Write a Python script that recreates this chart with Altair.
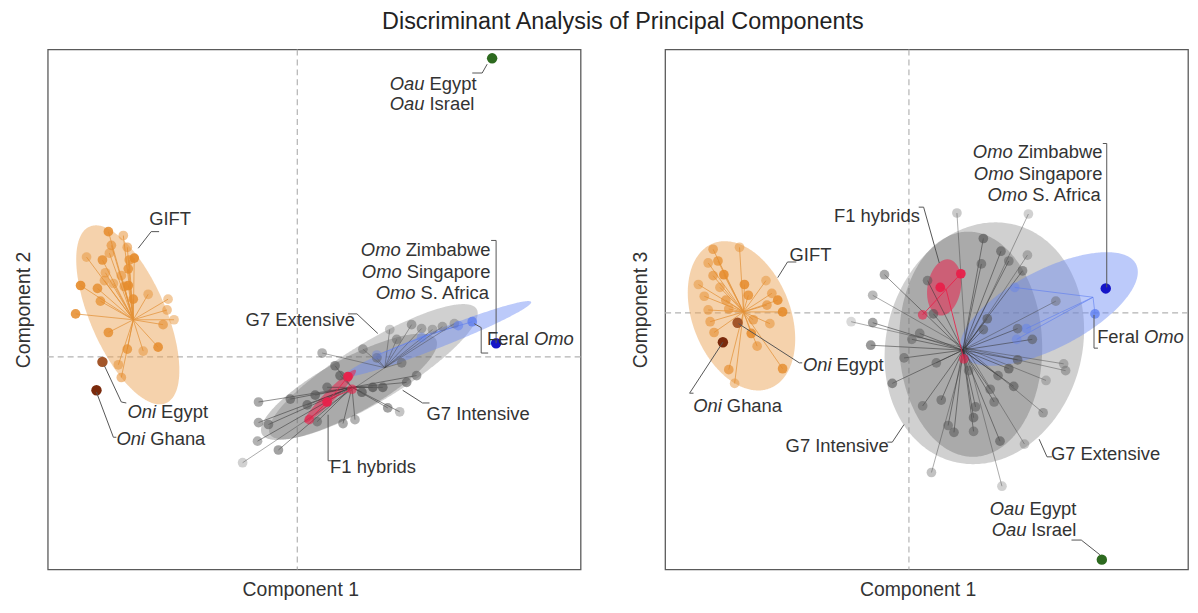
import altair as alt
import numpy as np
import pandas as pd

FONT = "Liberation Sans"
TXT = "#333333"

# ------------------------------------------------------------------
# LEFT PANEL  (Component 1 vs Component 2)
# ------------------------------------------------------------------
L_GIFT_X = [-19.0, -17.5, -18.7, -17.1, -21.2, -19.6, -18.9, -16.4, -16.9, -17.0,
            -19.3, -17.7, -21.8, -20.1, -19.4, -18.5, -17.4, -17.0, -16.5, -19.8,
            -15.0, -13.0, -22.3, -13.1, -12.4, -13.5, -19.0, -14.0, -17.1, -15.5,
            -18.0, -17.7]
L_GIFT_Y = [12.8, 12.4, 11.4, 11.2, 10.2, 9.9, 10.6, 10.1, 9.9, 9.0,
            8.6, 8.3, 7.3, 7.0, 7.8, 7.5, 7.2, 7.3, 5.9, 5.7,
            6.4, 5.9, 4.4, 4.8, 3.8, 3.3, 2.5, 1.0, 0.8, 0.6,
            -0.8, -2.1]
L_GIFT_A = [0.85, 0.5, 0.6, 0.55, 0.45, 0.8, 0.5, 0.9, 0.7, 0.75,
            0.5, 0.55, 0.9, 0.8, 0.5, 0.45, 0.6, 0.85, 0.8, 0.7,
            0.45, 0.45, 0.85, 0.5, 0.45, 0.6, 0.8, 0.85, 0.7, 0.45,
            0.5, 0.55]
L_GIFT_C = (-16.5, 3.8)

L_G7I_X = [-3.9, -3.9, -2.9, -4.0, -1.9, -0.7, 1.0, 1.8, 2.0, 4.6, 5.8, 6.5, 7.6, 8.6,
           9.1, 10.3, 11.0, 12.0, 3.8, 4.3, 3.0]
L_G7I_Y = [-4.6, -6.7, -6.9, -8.6, -9.5, -4.3, -4.9, -3.9, -6.6, -6.8, -6.4, -3.6, -3.1, -3.1,
           -5.2, -5.6, -2.6, -1.9, -0.9, -1.9, -3.1]
L_G7I_A = [0.5, 0.5, 0.55, 0.45, 0.55, 0.6, 0.6, 0.65, 0.5, 0.5, 0.45, 0.7, 0.75, 0.7,
           0.55, 0.35, 0.6, 0.55, 0.6, 0.65, 0.6]
L_G7I_C = (5.5, -3.1)

L_G7E_X = [2.5, -5.5, 10.5, 8.0, 6.6, 9.3, 11.5, 12.5, 13.6, 14.6, 15.8, 10.0]
L_G7E_Y = [0.4, -10.8, -0.6, -0.1, 0.8, 2.8, 3.3, 2.9, 2.8, 3.1, 3.4, 1.8]
L_G7E_A = [0.5, 0.3, 0.6, 0.55, 0.5, 0.35, 0.5, 0.45, 0.4, 0.45, 0.4, 0.5]
L_G7E_C = (8.8, -1.1)

L_F1_X = [5.1, 3.0, 1.2, 5.5]
L_F1_Y = [-2.0, -4.6, -6.4, -3.3]
L_F1_A = [0.95, 0.95, 0.6, 0.6]
L_F1_C = (3.3, -4.3)

L_FER_X = [17.6, 16.2, 12.5, 8.0]
L_FER_Y = [3.6, 3.2, 2.0, 0.2]
L_FER_A = [0.75, 0.5, 0.4, 0.35]
L_FER_C = (13.3, 2.3)

L_OMO = (20.0, 1.4)
L_ONI_EG = (-19.6, -0.5)
L_ONI_GH = (-20.2, -3.4)
L_OAU = (19.6, 30.5)

# ellipses: centre x, centre y, semi-major, semi-minor, angle (deg)
L_ELL_NAMES = ["G7 Extensive", "G7 Intensive", "Omo", "F1", "GIFT"]
L_ELL_CX = [7.65, 5.2, 14.15, 3.3, -17.05]
L_ELL_CY = [-1.5, -3.05, 1.85, -4.0, 4.3]
L_ELL_A = [12.2, 10.0, 10.1, 3.7, 9.8]
L_ELL_B = [3.0, 2.8, 0.9, 0.55, 3.8]
L_ELL_ANG = [31.7, 29.0, 21.9, 46.0, -67.0]

# labels: split point, y, first part, second part, italic flags
L_LAB_X = [-15.15, -13.95, -15.05, -5.45, 12.75, 3.05, 10.65, 10.75, 12.15, 23.55, 13.05, 13.05]
L_LAB_Y = [14.1, -5.6, -8.4, 3.8, -5.8, -11.2, 10.9, 8.7, 6.5, 1.8, 27.9, 25.8]
L_LAB_P1 = ["", "Oni", "Oni", "", "", "", "Omo", "Omo", "Omo", "Feral", "Oau", "Oau"]
L_LAB_P2 = ["GIFT", "Egypt", "Ghana", "G7 Extensive", "G7 Intensive", "F1 hybrids",
            "Zimbabwe", "Singapore", "S. Africa", "Omo", "Egypt", "Israel"]
L_LAB_I1 = [False, True, True, False, False, False, True, True, True, False, True, True]
L_LAB_I2 = [False, False, False, False, False, False, False, False, False, True, False, False]

L_LEADERS = {
    "gift": [(-16.0, 11.1), (-14.7, 12.8), (-13.9, 12.8)],
    "oniE": [(-19.4, -0.9), (-17.7, -4.6), (-17.2, -4.7)],
    "oniG": [(-20.2, -3.6), (-18.5, -8.2), (-18.2, -8.2)],
    "g7e": [(5.1, 4.4), (6.0, 4.4), (8.1, 2.4)],
    "g7i": [(10.6, -3.4), (12.6, -4.7), (13.3, -4.7)],
    "f1": [(3.1, -5.9), (3.1, -10.6), (3.5, -10.6)],
    "omo": [(19.5, 11.9), (20.0, 11.9), (20.0, 1.4)],
    "feral": [(17.8, 3.4), (18.5, 3.0), (18.5, 0.4), (19.2, 0.4)],
    "oau": [(19.1, 29.9), (18.6, 29.0), (17.6, 29.0)],
}

# ------------------------------------------------------------------
# RIGHT PANEL  (Component 1 vs Component 3)
# ------------------------------------------------------------------
R_GIFT_X = [-20.0, -17.3, -20.5, -19.5, -20.0, -18.9, -21.5, -19.3, -16.8, -14.6,
            -20.9, -18.7, -16.4, -14.0, -13.4, -14.5, -12.9, -20.5, -18.4, -20.3,
            -15.9, -14.2, -19.9, -16.1, -15.5, -12.9, -18.4, -17.8]
R_GIFT_Y = [6.5, 6.7, 5.1, 5.3, 3.8, 3.9, 2.9, 2.6, 2.9, 3.3,
            1.7, 1.3, 1.8, 2.0, 1.3, 0.8, 0.1, 0.3, 0.4, -0.9,
            -0.7, -1.1, -2.0, -2.1, -3.4, -5.7, -5.8, -7.2]
R_GIFT_A = [0.6, 0.45, 0.5, 0.7, 0.6, 0.85, 0.45, 0.5, 0.85, 0.45,
            0.5, 0.6, 0.75, 0.55, 0.85, 0.6, 0.9, 0.5, 0.55, 0.55,
            0.6, 0.5, 0.6, 0.85, 0.55, 0.8, 0.65, 0.45]
R_GIFT_C = (-16.9, 0.1)

R_G7I_X = [-2.5, 1.9, 2.5, -3.7, 1.1, 0.3, -3.9, -0.5, 2.8, -1.7, 3.3, 1.4, 4.0, 4.6,
           7.6, 9.4, 7.4, 10.2, 11.6, 8.0, 7.6, 11.1, 12.6, 11.1, 10.2, 6.1, 9.1,
           10.7, 8.3, 8.7, 6.8, 6.6, 6.6, 9.3]
R_G7I_Y = [3.9, 3.3, -0.1, -1.0, -2.1, -2.7, -3.3, -4.6, -5.1, -7.2, -8.9, -9.5, -11.5, -12.2,
           7.6, 6.3, 5.0, 5.3, 4.3, -0.6, -1.7, -1.6, -2.7, -4.8, -5.7, -5.9, -6.4,
           -7.5, -7.8, -9.1, -9.6, -10.7, -12.1, -13.1]
R_G7I_A = [0.5, 0.55, 0.6, 0.55, 0.5, 0.45, 0.6, 0.5, 0.5, 0.6, 0.55, 0.45, 0.5, 0.55,
           0.65, 0.6, 0.55, 0.5, 0.55, 0.6, 0.55, 0.5, 0.55, 0.6, 0.65, 0.5, 0.55,
           0.6, 0.55, 0.5, 0.55, 0.6, 0.5, 0.6]
R_G7I_C = (5.5, -3.8)

R_G7E_X = [4.9, 12.2, -5.9, -3.7, 15.0, 15.8, 16.0, 14.0, 13.7, 11.8, 9.5, 2.3, 12.1]
R_G7E_Y = [10.2, 10.1, -0.9, 1.8, 1.2, -5.2, -5.9, -6.9, -10.2, -13.4, -17.7, -16.3, 5.9]
R_G7E_A = [0.35, 0.3, 0.25, 0.45, 0.45, 0.4, 0.45, 0.35, 0.5, 0.35, 0.3, 0.4, 0.4]
R_G7E_C = (5.8, -3.6)

R_F1_X = [5.3, 3.2, 1.4, 5.6]
R_F1_Y = [4.0, 2.6, -0.2, -4.7]
R_F1_A = [0.95, 0.95, 0.6, 0.6]
R_F1_C = (3.8, 2.4)

R_FER_X = [19.0, 10.8, 12.0, 11.0]
R_FER_Y = [-0.1, 2.6, -1.6, -2.7]
R_FER_A = [0.75, 0.35, 0.4, 0.35]
R_FER_C = (18.8, 1.6)

R_OMO = (20.1, 2.5)
R_ONI_EG = (-17.5, -1.0)
R_ONI_GH = (-19.0, -3.0)
R_OAU = (19.7, -25.2)

R_ELL_NAMES = ["G7 Extensive", "G7 Intensive", "Omo", "F1", "GIFT"]
R_ELL_CX = [7.7, 6.3, 14.3, 3.6, -17.1]
R_ELL_CY = [-3.1, -3.2, 0.4, 2.6, -0.3]
R_ELL_A = [12.5, 11.5, 10.0, 2.9, 7.95]
R_ELL_B = [10.0, 7.3, 4.0, 1.7, 5.0]
R_ELL_ANG = [75.0, 92.0, 27.3, 80.0, -68.6]

R_LAB_X = [-12.45, -7.65, -18.85, -7.9, 10.85, 10.95, 12.35, 23.75, -12.85, 14.25, 12.05, 12.25]
R_LAB_Y = [5.9, -5.3, -9.5, 9.9, 16.4, 14.2, 12.0, -2.5, -13.6, -14.4, -20.0, -22.2]
R_LAB_P1 = ["", "Oni", "Oni", "", "Omo", "Omo", "Omo", "Feral", "", "", "Oau", "Oau"]
R_LAB_P2 = ["GIFT", "Egypt", "Ghana", "F1 hybrids", "Zimbabwe", "Singapore", "S. Africa",
            "Omo", "G7 Intensive", "G7 Extensive", "Egypt", "Israel"]
R_LAB_I1 = [False, True, True, False, True, True, True, False, False, False, True, True]
R_LAB_I2 = [False, False, False, False, False, False, False, True, False, False, False, False]

R_LEADERS = {
    "gift": [(-13.4, 3.6), (-12.4, 5.2), (-11.5, 5.2)],
    "oniE": [(-17.4, -1.1), (-11.2, -5.1), (-10.9, -5.1)],
    "oniG": [(-19.0, -3.0), (-22.4, -8.2), (-22.0, -8.2)],
    "f1": [(1.0, 10.8), (1.5, 10.8), (3.1, 5.1)],
    "omo": [(19.8, 17.3), (20.2, 17.3), (20.2, 2.6)],
    "feral": [(18.9, -0.2), (18.9, -3.6), (19.3, -3.6)],
    "g7i": [(-2.2, -13.2), (-1.7, -13.2), (-0.5, -11.4)],
    "g7e": [(13.3, -12.9), (14.1, -14.7), (14.6, -14.7)],
    "oau": [(16.6, -23.2), (17.6, -23.2), (19.5, -24.7)],
}

# ------------------------------------------------------------------
# styles
# ------------------------------------------------------------------
PT_COL = {"GIFT": "#E58B2A", "G7I": "#555555", "G7E": "#666666", "F1": "#E8204A",
          "FER": "#5B7CF0", "OMO": "#1414C8", "ONIE": "#A3562A", "ONIG": "#7A2A0C",
          "OAU": "#2D6A1F"}
SP_COL = {"GIFT": "#E39238", "G7I": "#333333", "G7E": "#444444", "F1": "#E8204A",
          "FER": "#5B7CF0"}
SP_OP = {"GIFT": 0.75, "G7I": 0.55, "G7E": 0.45, "F1": 0.85, "FER": 0.6}
ELL_STYLE = {"G7 Extensive": ("#8a8a8a", 0.4), "G7 Intensive": ("#666666", 0.36),
             "Omo": ("#6A8AF5", 0.45), "F1": ("#E8204A", 0.55), "GIFT": ("#EBA55A", 0.5)}


def ellipse_area(cx, cy, a, b, ang_deg, n=181):
    t = np.radians(ang_deg)
    c, s = np.cos(t), np.sin(t)
    xh = np.sqrt((a * c) ** 2 + (b * s) ** 2)
    X = -xh * np.cos(np.linspace(0, np.pi, n))
    A = s ** 2 / a ** 2 + c ** 2 / b ** 2
    B = 2 * X * c * s * (1 / a ** 2 - 1 / b ** 2)
    C = X ** 2 * (c ** 2 / a ** 2 + s ** 2 / b ** 2) - 1
    disc = np.clip(B ** 2 - 4 * A * C, 0, None)
    y1 = (-B + np.sqrt(disc)) / (2 * A)
    y2 = (-B - np.sqrt(disc)) / (2 * A)
    return pd.DataFrame({"x": cx + X, "y": cy + y1, "y2": cy + y2})


def group_df(key, xs, ys, al, centre=None, size=95):
    df = pd.DataFrame({"x": xs, "y": ys, "op": al})
    df["col"] = PT_COL[key]
    df["sz"] = size
    df["key"] = key
    if centre is not None:
        df["cx"] = centre[0]
        df["cy"] = centre[1]
    return df


def single_df(key, pt, size=110):
    return pd.DataFrame({"x": [pt[0]], "y": [pt[1]], "op": [1.0], "col": [PT_COL[key]],
                         "sz": [size], "key": [key]})


def make_panel(xdom, ydom, w, h, ytitle, groups, singles, ell, leaders, labels):
    xs = alt.Scale(domain=xdom, nice=False, zero=False)
    ys = alt.Scale(domain=ydom, nice=False, zero=False)
    xax = alt.Axis(title="Component 1")
    yax = alt.Axis(title=ytitle)

    def X(f):
        return alt.X(f, type="quantitative", scale=xs, axis=xax)

    def Y(f):
        return alt.Y(f, type="quantitative", scale=ys, axis=yax)

    layers = []
    zero = pd.DataFrame({"x": [0.0], "y": [0.0]})
    layers.append(alt.Chart(zero).mark_rule(color="#b3b3b3", strokeDash=[6, 4], strokeWidth=1.2)
                  .encode(x=X("x")))
    layers.append(alt.Chart(zero).mark_rule(color="#b3b3b3", strokeDash=[6, 4], strokeWidth=1.2)
                  .encode(y=Y("y")))

    names, cxs, cys, aa, bb, angs = ell
    for nm, cx, cy, a, b, g in zip(names, cxs, cys, aa, bb, angs):
        col, op = ELL_STYLE[nm]
        layers.append(alt.Chart(ellipse_area(cx, cy, a, b, g)).mark_area(color=col, opacity=op)
                      .encode(x=X("x"), y=Y("y"), y2="y2"))

    allg = pd.concat(groups, ignore_index=True)
    sp = allg.copy()
    sp["scol"] = sp["key"].map(SP_COL)
    sp["sop"] = sp["key"].map(SP_OP)
    layers.append(alt.Chart(sp).mark_rule(strokeWidth=1)
                  .encode(x=X("x"), y=Y("y"), x2="cx", y2="cy",
                          color=alt.Color("scol:N", scale=None),
                          opacity=alt.Opacity("sop:Q", scale=None)))
    pts = pd.concat([allg[["x", "y", "op", "col", "sz", "key"]]] + singles, ignore_index=True)
    layers.append(alt.Chart(pts).mark_circle()
                  .encode(x=X("x"), y=Y("y"),
                          color=alt.Color("col:N", scale=None),
                          opacity=alt.Opacity("op:Q", scale=None),
                          size=alt.Size("sz:Q", scale=None)))

    rows = []
    for k, seq in leaders.items():
        for i, (lx, ly) in enumerate(seq):
            rows.append({"id": k, "o": i, "x": lx, "y": ly})
    layers.append(alt.Chart(pd.DataFrame(rows)).mark_line(color="#555555", strokeWidth=1)
                  .encode(x=X("x"), y=Y("y"), detail="id:N", order="o:Q"))

    lx, ly, p1, p2, i1, i2 = labels
    lab = pd.DataFrame({"x": lx, "y": ly, "p1": p1, "p2": p2, "i1": i1, "i2": i2})
    common = dict(font=FONT, fontSize=18.5, color=TXT, baseline="middle")
    for flag in (True, False):
        d1 = lab[(lab["i1"] == flag) & (lab["p1"] != "")]
        if len(d1):
            layers.append(alt.Chart(d1).mark_text(align="right", dx=-2.5,
                                                   fontStyle="italic" if flag else "normal", **common)
                          .encode(x=X("x"), y=Y("y"), text="p1:N"))
        d2 = lab[lab["i2"] == flag]
        if len(d2):
            layers.append(alt.Chart(d2).mark_text(align="left", dx=2.5,
                                                   fontStyle="italic" if flag else "normal", **common)
                          .encode(x=X("x"), y=Y("y"), text="p2:N"))
    return alt.layer(*layers).properties(width=w, height=h)


left = make_panel(
    [-25.1, 28.5], [-21.7, 31.4], 536, 523, "Component 2",
    [group_df("GIFT", L_GIFT_X, L_GIFT_Y, L_GIFT_A, L_GIFT_C),
     group_df("G7E", L_G7E_X, L_G7E_Y, L_G7E_A, L_G7E_C),
     group_df("G7I", L_G7I_X, L_G7I_Y, L_G7I_A, L_G7I_C),
     group_df("FER", L_FER_X, L_FER_Y, L_FER_A, L_FER_C),
     group_df("F1", L_F1_X, L_F1_Y, L_F1_A, L_F1_C)],
    [single_df("ONIE", L_ONI_EG), single_df("ONIG", L_ONI_GH),
     single_df("OMO", L_OMO), single_df("OAU", L_OAU)],
    (L_ELL_NAMES, L_ELL_CX, L_ELL_CY, L_ELL_A, L_ELL_B, L_ELL_ANG),
    L_LEADERS,
    (L_LAB_X, L_LAB_Y, L_LAB_P1, L_LAB_P2, L_LAB_I1, L_LAB_I2),
)

right = make_panel(
    [-24.9, 28.5], [-26.2, 26.9], 526, 523, "Component 3",
    [group_df("GIFT", R_GIFT_X, R_GIFT_Y, R_GIFT_A, R_GIFT_C),
     group_df("G7E", R_G7E_X, R_G7E_Y, R_G7E_A, R_G7E_C),
     group_df("G7I", R_G7I_X, R_G7I_Y, R_G7I_A, R_G7I_C),
     group_df("FER", R_FER_X, R_FER_Y, R_FER_A, R_FER_C),
     group_df("F1", R_F1_X, R_F1_Y, R_F1_A, R_F1_C)],
    [single_df("ONIE", R_ONI_EG), single_df("ONIG", R_ONI_GH),
     single_df("OMO", R_OMO), single_df("OAU", R_OAU)],
    (R_ELL_NAMES, R_ELL_CX, R_ELL_CY, R_ELL_A, R_ELL_B, R_ELL_ANG),
    R_LEADERS,
    (R_LAB_X, R_LAB_Y, R_LAB_P1, R_LAB_P2, R_LAB_I1, R_LAB_I2),
)

chart = (
    alt.hconcat(left, right, spacing=47)
    .properties(
        title=alt.TitleParams("Discriminant Analysis of Principal Components", fontSize=23.5,
                              font=FONT, fontWeight="normal", color="#222222",
                              anchor="middle", dx=22, offset=15),
        padding={"left": 4, "top": 0, "right": 0, "bottom": 0},
    )
    .configure_view(stroke="#5a5a5a", strokeWidth=1.3)
    .configure_axis(domain=False, ticks=False, labels=False, grid=False, minExtent=0,
                    titleFont=FONT, titleFontSize=19.5, titleFontWeight="normal", titleColor=TXT)
    .configure_axisX(titlePadding=11, titleX=254)
    .configure_axisY(titlePadding=14.5)
)

chart.save("out.html", embed_options={"renderer": "svg", "actions": False})
